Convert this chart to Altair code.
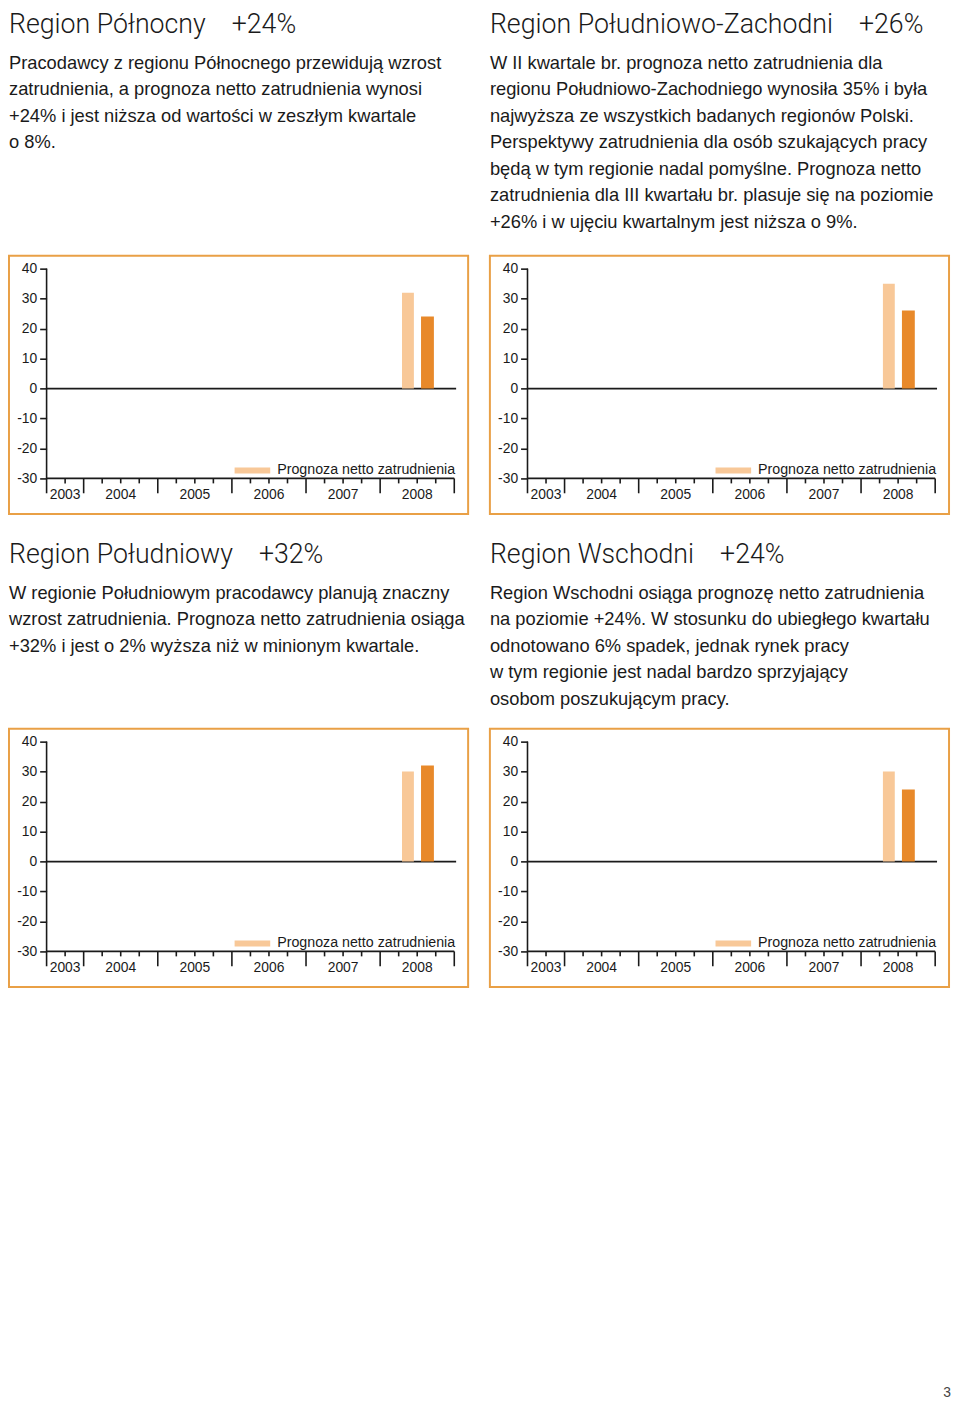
import altair as alt
import pandas as pd

# ---------------- data ----------------
regions = ["Region Północny", "Region Południowo-Zachodni", "Region Południowy", "Region Wschodni"]
headline_pct = ["+24%", "+26%", "+32%", "+24%"]
prev_quarter_values = [32, 35, 30, 30]   # II kwartał 2008
curr_quarter_values = [24, 26, 32, 24]   # III kwartał 2008
descriptions = [
    ["Pracodawcy z regionu Północnego przewidują wzrost",
     "zatrudnienia, a prognoza netto zatrudnienia wynosi",
     "+24% i jest niższa od wartości w zeszłym kwartale",
     "o 8%."],
    ["W II kwartale br. prognoza netto zatrudnienia dla",
     "regionu Południowo-Zachodniego wynosiła 35% i była",
     "najwyższa ze wszystkich badanych regionów Polski.",
     "Perspektywy zatrudnienia dla osób szukających pracy",
     "będą w tym regionie nadal pomyślne. Prognoza netto",
     "zatrudnienia dla III kwartału br. plasuje się na poziomie",
     "+26% i w ujęciu kwartalnym jest niższa o 9%."],
    ["W regionie Południowym pracodawcy planują znaczny",
     "wzrost zatrudnienia. Prognoza netto zatrudnienia osiąga",
     "+32% i jest o 2% wyższa niż w minionym kwartale."],
    ["Region Wschodni osiąga prognozę netto zatrudnienia",
     "na poziomie +24%. W stosunku do ubiegłego kwartału",
     "odnotowano 6% spadek, jednak rynek pracy",
     "w tym regionie jest nadal bardzo sprzyjający",
     "osobom poszukującym pracy."],
]
years = [2003, 2004, 2005, 2006, 2007, 2008]
first_quarter = [3, 1, 1, 1, 1, 1]
quarters_in_year = [2, 4, 4, 4, 4, 4]
y_ticks = [-30, -20, -10, 0, 10, 20, 30, 40]
legend_label = "Prognoza netto zatrudnienia"
prev_period = (2008, 2)
curr_period = (2008, 3)
page_number = "3"

# ---------------- style ----------------
FONT = "Liberation Sans"
TITLE_FONT = "Roboto"
INK = "#1a1a1a"
ORANGE = "#E9A046"
LIGHT = "#F8C898"
DARK = "#E8892A"
W, H = 464, 261
PX_Q = 412 / 22.0          # px per quarter
PX_U = 212 / 70.0          # px per percentage point
AX_LEFT = 38               # px from box edge to y axis
TOP_PAD = 13               # px from box top to 40

year_start = {}
acc = 0
for yr, n in zip(years, quarters_in_year):
    year_start[yr] = acc
    acc += n
TOTAL_Q = acc


def q_center(period):
    yr, q = period
    i = years.index(yr)
    return year_start[yr] + (q - first_quarter[i]) + 0.5


x_dom = [-AX_LEFT / PX_Q, (W - AX_LEFT) / PX_Q]
y_dom = [y_ticks[-1] - (H - TOP_PAD) / PX_U, y_ticks[-1] + TOP_PAD / PX_U]
y_floor = y_ticks[0]
major_bottom = y_floor - 15 / PX_U
minor_bottom = y_floor - 5 / PX_U
label_y = y_floor - 17 / PX_U

xs = alt.Scale(domain=x_dom, nice=False, zero=False, padding=0)
ys = alt.Scale(domain=y_dom, nice=False, zero=False, padding=0)
yaxis = alt.Axis(values=y_ticks, title=None, domain=False, grid=False,
                 tickSize=7, tickColor=INK, tickWidth=1.6,
                 labelFont=FONT, labelFontSize=14, labelColor=INK, labelPadding=3,
                 labelExpr="'' + datum.value", offset=-AX_LEFT)

# axis frame pieces as small tables
ticks_rows = []
for yr, n in zip(years, quarters_in_year):
    s = year_start[yr]
    ticks_rows.append({"x": s, "y": y_floor, "y2": major_bottom})
    for k in range(1, n):
        ticks_rows.append({"x": s + k, "y": y_floor, "y2": minor_bottom})
ticks_rows.append({"x": TOTAL_Q, "y": y_floor, "y2": major_bottom})
ticks_rows.append({"x": 0, "y": y_ticks[-1], "y2": y_floor})        # vertical axis line
ticks_df = pd.DataFrame(ticks_rows)
hlines_df = pd.DataFrame({"x": [0, 0], "x2": [TOTAL_Q, TOTAL_Q + 0.1], "y": [y_floor, 0]})
labels_df = pd.DataFrame({"year": [str(y) for y in years],
                          "x": [year_start[y] + n / 2 for y, n in zip(years, quarters_in_year)],
                          "y": [label_y] * len(years)})


def X(f):
    return alt.X(f, type="quantitative", scale=xs, axis=None)


def Y(f):
    return alt.Y(f, type="quantitative", scale=ys, axis=yaxis)


def panel(i, n_lines, offset):
    sub = descriptions[i] + [" "] * (n_lines - len(descriptions[i]))
    vlines = alt.Chart(ticks_df).mark_rule(color=INK, strokeWidth=1.6).encode(
        x=X("x"), y=Y("y"), y2="y2")
    hlines = alt.Chart(hlines_df).mark_rule(color=INK, strokeWidth=1.8).encode(
        x=X("x"), x2="x2", y=Y("y"))
    ylabels = alt.Chart(labels_df).mark_text(font=FONT, fontSize=14, color=INK,
                                              baseline="middle").encode(
        x=X("x"), y=Y("y"), text="year:N")
    prev_df = pd.DataFrame({"x": [q_center(prev_period)], "v": [prev_quarter_values[i]],
                            "base": [0], "series": [legend_label]})
    curr_df = pd.DataFrame({"x": [q_center(curr_period)], "v": [curr_quarter_values[i]],
                            "base": [0]})
    prev = alt.Chart(prev_df).mark_bar(size=12).encode(
        x=X("x"), y=Y("v"), y2="base",
        color=alt.Color("series:N", scale=alt.Scale(domain=[legend_label], range=[LIGHT]),
                        legend=alt.Legend(orient="none", legendX=228, legendY=199, title=None,
                                          symbolType="M-1,-0.17L1,-0.17L1,0.17L-1,0.17Z",
                                          symbolSize=1296, symbolStrokeWidth=0,
                                          labelFont=FONT, labelFontSize=14.4, labelColor=INK,
                                          labelOffset=7, padding=0, labelLimit=400)))
    curr = alt.Chart(curr_df).mark_bar(size=13, color=DARK, xOffset=1).encode(
        x=X("x"), y=Y("v"), y2="base")
    title = alt.TitleParams(
        text=regions[i] + "\u00a0\u00a0\u00a0\u00a0" + headline_pct[i], subtitle=sub,
        anchor="start", frame="group", font=TITLE_FONT, fontWeight=300, fontSize=27,
        color=INK, subtitleFont=FONT, subtitleFontSize=18.5, subtitleColor=INK,
        subtitleLineHeight=26.7, subtitlePadding=15, offset=offset)
    return alt.layer(vlines, hlines, ylabels, prev, curr).properties(
        width=W, height=H, title=title,
        view=alt.ViewBackground(stroke=ORANGE, strokeWidth=2))


row1 = alt.hconcat(panel(0, 7, 24), panel(1, 7, 24), spacing=20).resolve_scale(color="independent")
row2 = alt.hconcat(panel(2, 5, 20), panel(3, 5, 20), spacing=20).resolve_scale(color="independent")

PN_H = 390
pn = alt.Chart(pd.DataFrame({"p": [page_number]})).mark_text(
    font=FONT, fontSize=14, color="#444", align="right", baseline="bottom").encode(
    text="p:N", x=alt.value(952), y=alt.value(PN_H)).properties(
    width=944, height=PN_H, view=alt.ViewBackground(stroke="transparent"))

chart = alt.vconcat(row1, row2, pn, spacing=25).resolve_scale(color="independent").properties(
    padding={"top": -5, "left": 0, "right": 0, "bottom": 0},
    background="white").configure_view(stroke="transparent")

chart.save("out.html", embed_options={"renderer": "svg", "actions": False})
